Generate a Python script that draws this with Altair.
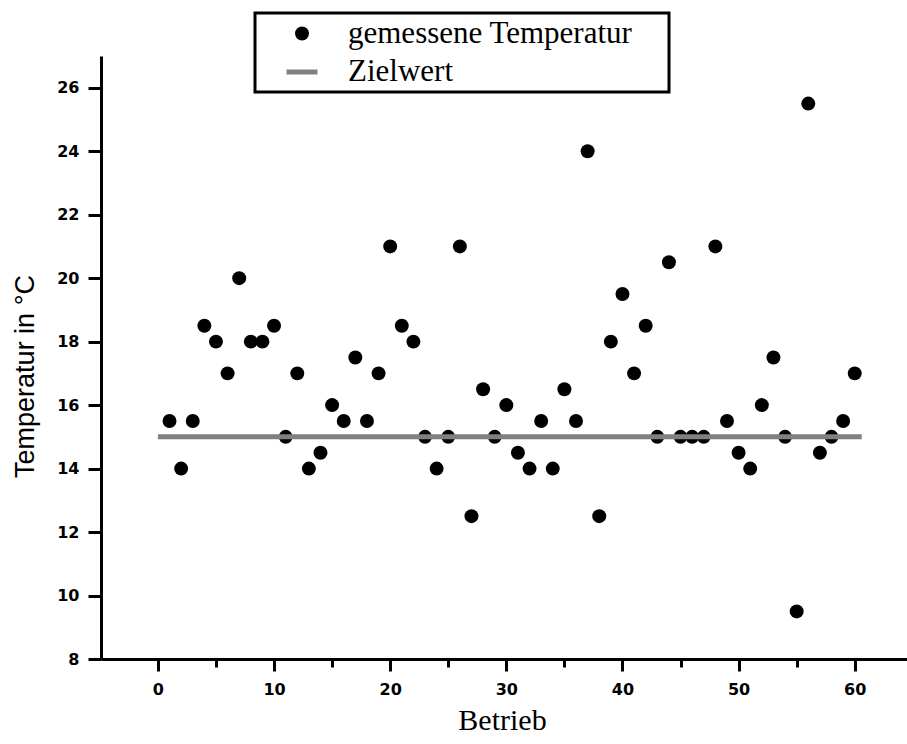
import altair as alt
import pandas as pd

# ---- data ----
betrieb = list(range(1, 61))
temperatur = [15.5, 14, 15.5, 18.5, 18, 17, 20, 18, 18, 18.5,
              15, 17, 14, 14.5, 16, 15.5, 17.5, 15.5, 17, 21,
              18.5, 18, 15, 14, 15, 21, 12.5, 16.5, 15, 16,
              14.5, 14, 15.5, 14, 16.5, 15.5, 24, 12.5, 18, 19.5,
              17, 18.5, 15, 20.5, 15, 15, 15, 21, 15.5, 14.5,
              14, 16, 17.5, 15, 9.5, 25.5, 14.5, 15, 15.5, 17]
ziel_x = [0, 60.6]
ziel_y = [15, 15]
x_ticks = list(range(0, 65, 5))
y_ticks = list(range(8, 28))
series_names = ["gemessene Temperatur", "Zielwert"]
series_colors = ["#000000", "#808080"]
series_shapes = ["circle", "stroke"]
series_sizes = [195, 961]
series_strokes = [0, 5]

pts = pd.DataFrame({"Betrieb": betrieb, "Temperatur": temperatur,
                    "Serie": [series_names[0]] * len(betrieb)})
ziel = pd.DataFrame({"Betrieb": ziel_x, "Temperatur": ziel_y,
                     "Serie": [series_names[1]] * len(ziel_x)})

tick_font = "DejaVu Sans"

x_axis = alt.Axis(
    values=x_ticks,
    labelExpr="datum.value % 10 === 0 ? datum.label : ''",
    tickSize={"condition": {"test": "datum.value % 10 === 0", "value": 12}, "value": 8},
    labelPadding=10,
    labelFont=tick_font, labelFontWeight="bold", labelFontSize=16, labelColor="black",
    title="Betrieb", titleFont="Liberation Serif", titleFontSize=30, titleFontWeight="normal",
    titleColor="black", titleBaseline="alphabetic", titleY=70, titleX=401,
    grid=False,
)
y_axis = alt.Axis(
    values=y_ticks,
    labelExpr="datum.value % 2 === 0 ? datum.label : ''",
    tickSize={"condition": {"test": "datum.value % 2 === 0", "value": 13}, "value": 7},
    labelPadding=9,
    labelFont=tick_font, labelFontWeight="bold", labelFontSize=16, labelColor="black",
    title="Temperatur in °C", titleFont="Liberation Sans", titleFontSize=27, titleFontWeight="normal",
    titleColor="black", titleAngle=-90, titleBaseline="alphabetic", titleAlign="center",
    titleX=-68, titleY=320,
    grid=False,
)

x_enc = alt.X("Betrieb:Q", scale=alt.Scale(domain=[-4.9, 64.5], nice=False, zero=False), axis=x_axis)
y_enc = alt.Y("Temperatur:Q", scale=alt.Scale(domain=[8, 27], nice=False, zero=False), axis=y_axis)

legend = alt.Legend(
    title=None, orient="none", legendX=154, legendY=-43,
    labelFont="Liberation Serif", labelFontSize=31, labelColor="black",
    labelExpr="datum.label + '\u00a0\u00a0\u00a0\u00a0\u200b'",
    labelLimit=600,
    symbolOffset=24, labelOffset=28,
    padding=5, rowPadding=5,
    strokeColor="black", fillColor="white",
    symbolStrokeColor="#808080", symbolOpacity=1,
)
color_scale = alt.Scale(domain=series_names, range=series_colors)
shape_scale = alt.Scale(domain=series_names, range=series_shapes)
size_scale = alt.Scale(domain=series_names, range=series_sizes)
sw_scale = alt.Scale(domain=series_names, range=series_strokes)

points = alt.Chart(pts).mark_point(filled=True, opacity=1, stroke="#808080").encode(
    x=x_enc, y=y_enc,
    color=alt.Color("Serie:N", scale=color_scale, legend=legend),
    shape=alt.Shape("Serie:N", scale=shape_scale, legend=legend),
    size=alt.Size("Serie:N", scale=size_scale, legend=legend),
    strokeWidth=alt.StrokeWidth("Serie:N", scale=sw_scale, legend=legend),
)
line = alt.Chart(ziel).mark_line(strokeWidth=5, strokeCap="butt").encode(
    x="Betrieb:Q", y="Temperatur:Q",
    color=alt.Color("Serie:N", scale=color_scale, legend=legend),
)

chart = alt.layer(points, line).properties(
    width=806, height=603,
    autosize=alt.AutoSizeParams(type="none"),
    padding={"left": 101, "top": 56, "right": 0, "bottom": 85},
    background="white",
).configure_view(stroke=None).configure_axis(
    domainColor="black", domainWidth=3, tickColor="black", tickWidth=3,
).configure_legend(strokeWidth=3)

chart.save("out.html", embed_options={"renderer": "svg", "actions": False})
